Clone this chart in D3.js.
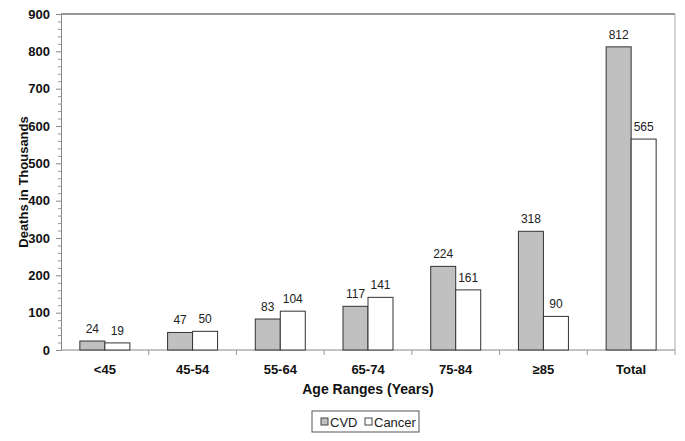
<!DOCTYPE html>
<html>
<head>
<meta charset="utf-8">
<script src="https://cdn.jsdelivr.net/npm/d3@7"></script>
<style>
  body { margin: 0; background: #fff; }
  text { font-family: "Liberation Sans", Arial, sans-serif; }
</style>
</head>
<body>
<div id="container"></div>
<script>
/* CONSTANTS AND GLOBALS */
const width = 685,
  height = 441,
  margin = { top: 14, bottom: 91, left: 61, right: 10 };

// data
const ageRanges = ["<45", "45-54", "55-64", "65-74", "75-84", "\u226585", "Total"];
const cvd = [24, 47, 83, 117, 224, 318, 812];
const cancer = [19, 50, 104, 141, 161, 90, 565];
const seriesNames = ["CVD", "Cancer"];
const seriesFill = ["#c0c0c0", "#ffffff"];
const yTicks = [0, 100, 200, 300, 400, 500, 600, 700, 800, 900];

const rows = ageRanges.map((a, i) => ({ age: a, values: [cvd[i], cancer[i]] }));

/* SCALES */
const xScale = d3.scaleBand()
  .domain(ageRanges)
  .range([margin.left, width - margin.right]);

const xInner = d3.scaleBand()
  .domain(seriesNames)
  .range([0, 50]);

const yScale = d3.scaleLinear()
  .domain([0, 900])
  .range([height - margin.bottom, margin.top]);

/* SVG */
const svg = d3.select("#container")
  .append("svg")
  .attr("width", width)
  .attr("height", height);

// frame: top dark, right light gray
svg.append("line")
  .attr("x1", margin.left).attr("x2", width - margin.right)
  .attr("y1", yScale(900)).attr("y2", yScale(900))
  .attr("stroke", "#333").attr("stroke-width", 1.2);
svg.append("line")
  .attr("x1", width - margin.right).attr("x2", width - margin.right)
  .attr("y1", yScale(900)).attr("y2", yScale(0))
  .attr("stroke", "#aaa");

// minor ticks on y
const minor = d3.range(0, 901, 20).filter(v => v % 100 !== 0);
svg.append("g")
  .selectAll("line")
  .data(minor)
  .join("line")
  .attr("x1", margin.left - 3).attr("x2", margin.left)
  .attr("y1", d => yScale(d) + 0.5).attr("y2", d => yScale(d) + 0.5)
  .attr("stroke", "#999");

// y axis
const yAxis = svg.append("g")
  .attr("transform", `translate(${margin.left},0)`)
  .call(d3.axisLeft(yScale).tickValues(yTicks).tickSize(5).tickPadding(6));
yAxis.select(".domain").attr("stroke", "#888");
yAxis.selectAll(".tick line").attr("stroke", "#888");
yAxis.selectAll(".tick text")
  .attr("font-size", 13).attr("font-weight", "bold").attr("fill", "#111");

// x axis: line + boundary ticks
const xAxisG = svg.append("g");
xAxisG.append("line")
  .attr("x1", margin.left).attr("x2", width - margin.right)
  .attr("y1", yScale(0)).attr("y2", yScale(0))
  .attr("stroke", "#888");
xAxisG.selectAll(".bt")
  .data(ageRanges)
  .join("line")
  .attr("class", "bt")
  .attr("x1", d => xScale(d) + xScale.bandwidth())
  .attr("x2", d => xScale(d) + xScale.bandwidth())
  .attr("y1", yScale(0)).attr("y2", yScale(0) + 5)
  .attr("stroke", "#999");
xAxisG.selectAll(".xl")
  .data(ageRanges)
  .join("text")
  .attr("class", "xl")
  .attr("x", d => xScale(d) + xScale.bandwidth() / 2)
  .attr("y", yScale(0) + 24)
  .attr("text-anchor", "middle")
  .attr("font-size", 13).attr("font-weight", "bold").attr("fill", "#111")
  .text(d => d);

// bars
const groups = svg.selectAll(".grp")
  .data(rows)
  .join("g")
  .attr("class", "grp")
  .attr("transform", d => `translate(${xScale(d.age) + xScale.bandwidth() / 2 - 25},0)`);

groups.selectAll("rect")
  .data(d => d.values.map((v, i) => ({ key: seriesNames[i], v, i })))
  .join("rect")
  .attr("x", d => xInner(d.key))
  .attr("y", d => yScale(d.v))
  .attr("width", xInner.bandwidth())
  .attr("height", d => yScale(0) - yScale(d.v))
  .attr("fill", d => seriesFill[d.i])
  .attr("stroke", "#333")
  .attr("stroke-width", 1);

groups.selectAll(".val")
  .data(d => d.values.map((v, i) => ({ key: seriesNames[i], v })))
  .join("text")
  .attr("class", "val")
  .attr("x", d => xInner(d.key) + xInner.bandwidth() / 2)
  .attr("y", d => yScale(d.v) - 8)
  .attr("text-anchor", "middle")
  .attr("font-size", 12).attr("fill", "#222")
  .text(d => d.v);

// axis titles
svg.append("text")
  .attr("x", (margin.left + width - margin.right) / 2)
  .attr("y", 394)
  .attr("text-anchor", "middle")
  .attr("font-size", 14).attr("font-weight", "bold").attr("fill", "#111")
  .text("Age Ranges (Years)");

svg.append("text")
  .attr("transform", `translate(28,${(yScale(0) + yScale(900)) / 2}) rotate(-90)`)
  .attr("text-anchor", "middle")
  .attr("font-size", 13).attr("font-weight", "bold").attr("fill", "#111")
  .text("Deaths in Thousands");

// legend
const legendX = [9, 53];
const legend = svg.append("g").attr("transform", "translate(312,411)");
legend.append("rect")
  .attr("width", 107).attr("height", 21)
  .attr("fill", "#fff").attr("stroke", "#555");
const items = legend.selectAll(".li")
  .data(seriesNames)
  .join("g")
  .attr("class", "li")
  .attr("transform", (d, i) => `translate(${legendX[i]},0)`);
items.append("rect")
  .attr("x", 0).attr("y", 7).attr("width", 7).attr("height", 7)
  .attr("fill", (d, i) => seriesFill[i]).attr("stroke", "#444");
items.append("text")
  .attr("x", 9).attr("y", 15.5)
  .attr("font-size", 13).attr("fill", "#222")
  .text(d => d);
</script>
</body>
</html>
